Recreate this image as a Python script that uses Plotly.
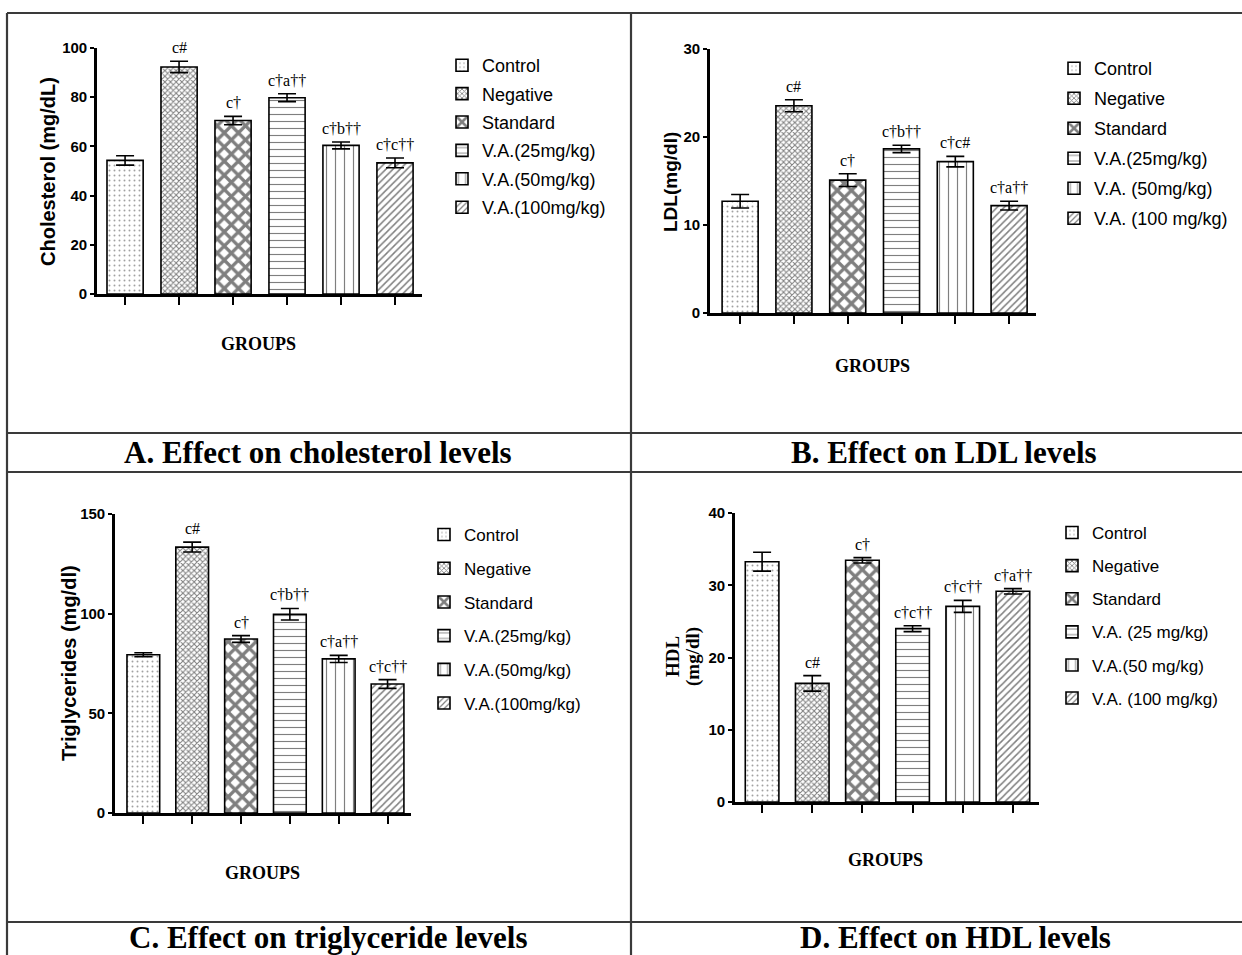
import plotly.graph_objects as go

W, H = 1242, 955

groups = ["Control", "Negative", "Standard", "VA25", "VA50", "VA100"]

chol = [54.3, 92.3, 70.5, 79.8, 60.4, 53.3]
chol_err = [1.9, 2.3, 1.7, 1.6, 1.4, 2.0]
chol_sig = ["", "c#", "c†", "c†a††", "c†b††", "c†c††"]
chol_legend = ["Control", "Negative", "Standard", "V.A.(25mg/kg)", "V.A.(50mg/kg)", "V.A.(100mg/kg)"]

ldl = [12.7, 23.55, 15.1, 18.65, 17.2, 12.2]
ldl_err = [0.76, 0.68, 0.72, 0.42, 0.6, 0.5]
ldl_sig = ["", "c#", "c†", "c†b††", "c†c#", "c†a††"]
ldl_legend = ["Control", "Negative", "Standard", "V.A.(25mg/kg)", "V.A. (50mg/kg)", "V.A. (100 mg/kg)"]

tg = [79.4, 133.4, 87.3, 99.7, 77.3, 64.7]
tg_err = [1.0, 2.5, 1.7, 2.9, 1.8, 2.2]
tg_sig = ["", "c#", "c†", "c†b††", "c†a††", "c†c††"]
tg_legend = ["Control", "Negative", "Standard", "V.A.(25mg/kg)", "V.A.(50mg/kg)", "V.A.(100mg/kg)"]

hdl = [33.26, 16.42, 33.45, 23.99, 27.08, 29.16]
hdl_err = [1.3, 1.07, 0.37, 0.41, 0.83, 0.37]
hdl_sig = ["", "c#", "c†", "c†c††", "c†c††", "c†a††"]
hdl_legend = ["Control", "Negative", "Standard", "V.A. (25 mg/kg)", "V.A.(50 mg/kg)", "V.A. (100 mg/kg)"]

panel_titles = ["A. Effect on cholesterol levels", "B. Effect on LDL levels",
                "C. Effect on triglyceride levels", "D. Effect on HDL levels"]
y_titles = [["Cholesterol (mg/dL)"], ["LDL(mg/dl)"], ["Triglycerides (mg/dl)"], ["HDL", "(mg/dl)"]]
y_ranges = [[0, 100], [0, 30], [0, 150], [0, 40]]
y_dticks = [20, 10, 50, 10]

patterns = [
    dict(shape=".", size=5, solidity=0.12, fgcolor="#444", bgcolor="white"),
    dict(shape="x", size=4, solidity=0.45, fgcolor="black", bgcolor="white"),
    dict(shape="x", size=10, solidity=0.55, fgcolor="black", bgcolor="white"),
    dict(shape="-", size=7, solidity=0.16, fgcolor="black", bgcolor="white"),
    dict(shape="|", size=9, solidity=0.13, fgcolor="black", bgcolor="white"),
    dict(shape="/", size=5, solidity=0.3, fgcolor="black", bgcolor="white"),
]

SANS = "Liberation Sans, Arial, sans-serif"
SERIF = "Liberation Serif, Times New Roman, serif"


def px(x):
    return x / W


def py(y):
    return 1 - y / H


panels = [
    dict(vals=chol, errs=chol_err, sig=chol_sig, leg=chol_legend,
         xd=(97, 422), yd=(294, 48), xr=[-0.52, 5.5],
         leg_x=442, leg_y=47, leg_font=dict(family=SANS, size=18), leg_gap=2,
         ytitle_pos=[(48, 172)], ytitle_font=dict(family=SANS, size=20, weight="bold"),
         groups_pos=(258, 344), title_pos=(318, 453)),
    dict(vals=ldl, errs=ldl_err, sig=ldl_sig, leg=ldl_legend,
         xd=(710, 1036), yd=(313, 49), xr=[-0.56, 5.5],
         leg_x=1054, leg_y=50, leg_font=dict(family=SANS, size=18), leg_gap=3.6,
         ytitle_pos=[(670, 182)], ytitle_font=dict(family=SANS, size=19, weight="bold"),
         groups_pos=(872, 366), title_pos=(944, 453)),
    dict(vals=tg, errs=tg_err, sig=tg_sig, leg=tg_legend,
         xd=(115, 411), yd=(813, 514), xr=[-0.58, 5.48],
         leg_x=424, leg_y=517, leg_font=dict(family=SANS, size=17), leg_gap=8.6,
         ytitle_pos=[(69, 663)], ytitle_font=dict(family=SANS, size=20, weight="bold"),
         groups_pos=(262, 873), title_pos=(328, 937)),
    dict(vals=hdl, errs=hdl_err, sig=hdl_sig, leg=hdl_legend,
         xd=(735, 1039), yd=(802, 513), xr=[-0.54, 5.52],
         leg_x=1052, leg_y=515, leg_font=dict(family=SANS, size=17), leg_gap=8,
         ytitle_pos=[(672, 657), (693, 657)], ytitle_font=dict(family=SERIF, size=19, weight="bold"),
         groups_pos=(886, 860), title_pos=(955, 937)),
]

fig = go.Figure()
annotations = []
layout_extra = {}

for i, p in enumerate(panels):
    k = "" if i == 0 else str(i + 1)
    xa, ya = "x" + k, "y" + k
    legname = "legend" + k
    for j, g in enumerate(groups):
        fig.add_trace(go.Bar(
            x=[g], y=[p["vals"][j]], name=p["leg"][j],
            xaxis=xa, yaxis=ya, legend=legname, legendgroup=f"p{i}g{j}",
            width=0.67,
            marker=dict(color="white", line=dict(color="black", width=1.6),
                        pattern=patterns[j]),
            error_y=dict(type="data", array=[p["errs"][j]], color="black",
                         thickness=1.6, width=9),
            showlegend=True,
        ))
        if p["sig"][j]:
            annotations.append(dict(
                x=g, y=p["vals"][j] + p["errs"][j], xref=xa, yref=ya,
                text=p["sig"][j], showarrow=False, yanchor="bottom", yshift=3,
                font=dict(family=SERIF, size=16, color="black")))
    layout_extra["xaxis" + k] = dict(
        domain=[px(p["xd"][0]), px(p["xd"][1])], anchor=ya, range=p["xr"],
        type="category", categoryorder="array", categoryarray=groups,
        showticklabels=False, ticks="outside", ticklen=8, tickwidth=2.2,
        tickcolor="black", showline=True, linewidth=2.6, linecolor="black",
        showgrid=False, zeroline=False, fixedrange=True, automargin=False)
    layout_extra["yaxis" + k] = dict(
        domain=[py(p["yd"][0]), py(p["yd"][1])], anchor=xa,
        range=y_ranges[i], dtick=y_dticks[i], tick0=0,
        ticks="outside", ticklen=4, tickwidth=2.2, tickcolor="black",
        showline=True, linewidth=2.6, linecolor="black",
        showgrid=False, zeroline=False,
        tickfont=dict(family=SANS, size=15, weight="bold", color="black"),
        fixedrange=True, automargin=False)
    layout_extra[legname] = dict(
        x=px(p["leg_x"]), y=py(p["leg_y"]), xanchor="left", yanchor="top",
        font=dict(color="black", **p["leg_font"]), tracegroupgap=p["leg_gap"],
        bgcolor="rgba(0,0,0,0)", borderwidth=0)
    for (tx, ty), ttext in zip(p["ytitle_pos"], y_titles[i]):
        annotations.append(dict(
            x=px(tx), y=py(ty), xref="paper", yref="paper",
            text=ttext, textangle=-90, showarrow=False,
            xanchor="center", yanchor="middle",
            font=dict(color="black", **p["ytitle_font"])))
    annotations.append(dict(
        x=px(p["groups_pos"][0]), y=py(p["groups_pos"][1]), xref="paper", yref="paper",
        text="GROUPS", showarrow=False, xanchor="center", yanchor="middle",
        font=dict(family=SERIF, size=18, weight="bold", color="black")))
    annotations.append(dict(
        x=px(p["title_pos"][0]), y=py(p["title_pos"][1]), xref="paper", yref="paper",
        text=panel_titles[i], showarrow=False, xanchor="center", yanchor="middle",
        font=dict(family=SERIF, size=31, weight="bold", color="black")))

lc = dict(color="#3a3a3a", width=2.2)
shapes = [
    dict(type="line", xref="paper", yref="paper", x0=px(7), x1=1, y0=py(13), y1=py(13), line=lc),
    dict(type="line", xref="paper", yref="paper", x0=px(7), x1=px(7), y0=py(13), y1=0, line=lc),
    dict(type="line", xref="paper", yref="paper", x0=px(631), x1=px(631), y0=py(13), y1=0, line=lc),
    dict(type="line", xref="paper", yref="paper", x0=px(7), x1=1, y0=py(433), y1=py(433), line=lc),
    dict(type="line", xref="paper", yref="paper", x0=px(7), x1=1, y0=py(472), y1=py(472), line=lc),
    dict(type="line", xref="paper", yref="paper", x0=px(7), x1=1, y0=py(922), y1=py(922), line=lc),
]

fig.update_layout(
    width=W, height=H, margin=dict(l=0, r=0, t=0, b=0, autoexpand=False),
    paper_bgcolor="white", plot_bgcolor="white",
    barmode="overlay", annotations=annotations, shapes=shapes,
    **layout_extra,
)

post = ("document.body.style.margin='0';document.body.style.overflow='hidden';"
        "var d=document.getElementsByClassName('plotly-graph-div')[0];"
        "d.style.position='absolute';d.style.top='0px';d.style.left='0px';")
fig.write_html("out.html", post_script=post, config={"displayModeBar": False})
